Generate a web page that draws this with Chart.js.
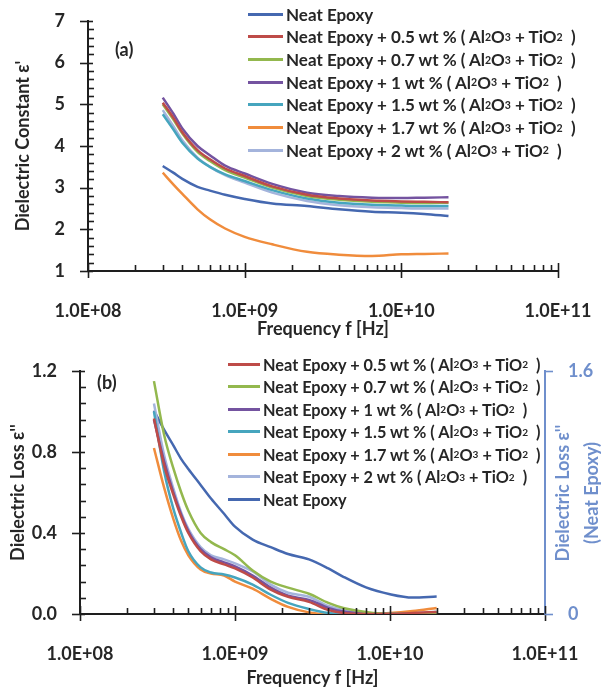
<!DOCTYPE html>
<html>
<head>
<meta charset="utf-8">
<script src="https://cdn.jsdelivr.net/npm/chart.js@4.4.1/dist/chart.umd.min.js"></script>
<style>
  body { margin: 0; background: #fff; width: 610px; height: 694px; position: relative; overflow: hidden; font-family: Lato, sans-serif; }
  .wrap { position: absolute; left: 0; }
  #wrapA { top: 0; }
  #wrapB { top: 340px; }
  .legend { position: absolute; color: #262626; font-weight: bold; white-space: pre; }
  .legend div { display: flex; align-items: center; }
  .legend .sw { display: inline-block; height: 3px; margin-right: 3px; }
  .legend sub { font-size: 0.62em; vertical-align: -0.2em; line-height: 0; }
  #legendA { left: 248px; top: 3px; font-size: 17px; }
  #legendA div { height: 22.67px; }
  #legendA .sw { width: 35px; }
  #legendB { left: 228px; top: 353px; font-size: 16.3px; }
  #legendB div { height: 22.5px; }
  #legendB .sw { width: 32px; }
</style>
</head>
<body>
<div class="wrap" id="wrapA"><canvas id="chartA" width="610" height="345"></canvas></div>
<div class="wrap" id="wrapB"><canvas id="chartB" width="610" height="354"></canvas></div>
<div class="legend" id="legendA"></div>
<div class="legend" id="legendB"></div>
<script>
// DATA
const loadings = ['0.5', '0.7', '1', '1.5', '1.7', '2'];
const xTickValues = [1e8, 1e9, 1e10, 1e11];

// (a) dielectric constant
const freqA = [3e8, 3.5e8, 4e8, 5e8, 6e8, 7.5e8, 1e9, 1.5e9, 2.5e9, 4e9, 6.5e9, 1e10, 1.4e10, 2e10];
const epsNeat = [3.52, 3.36, 3.21, 3.02, 2.93, 2.83, 2.73, 2.62, 2.56, 2.48, 2.42, 2.40, 2.37, 2.32];
const eps05 = [5.04, 4.68, 4.33, 3.90, 3.68, 3.46, 3.28, 3.03, 2.83, 2.74, 2.69, 2.67, 2.66, 2.65];
const eps07 = [5.00, 4.64, 4.30, 3.86, 3.64, 3.42, 3.24, 3.00, 2.80, 2.71, 2.66, 2.64, 2.63, 2.64];
const eps1 = [5.16, 4.78, 4.42, 4.00, 3.78, 3.53, 3.34, 3.09, 2.88, 2.80, 2.76, 2.75, 2.76, 2.77];
const eps15 = [4.76, 4.40, 4.08, 3.70, 3.50, 3.32, 3.16, 2.94, 2.74, 2.64, 2.59, 2.57, 2.56, 2.56];
const eps17 = [3.36, 3.08, 2.85, 2.48, 2.24, 2.02, 1.82, 1.64, 1.46, 1.39, 1.36, 1.40, 1.41, 1.42];
const eps2 = [4.86, 4.48, 4.14, 3.72, 3.50, 3.30, 3.12, 2.88, 2.68, 2.58, 2.53, 2.51, 2.50, 2.50];

// (b) dielectric loss
const freqB = [3e8, 3.5e8, 4e8, 4.5e8, 5e8, 6e8, 7e8, 8.5e8, 1e9, 1.3e9, 1.7e9, 2.2e9, 3e9, 4e9, 5e9, 7e9, 1e10, 1.4e10, 2e10];
const loss05 = [0.965, 0.73, 0.59, 0.48, 0.40, 0.31, 0.27, 0.245, 0.225, 0.18, 0.12, 0.085, 0.06, 0.02, 0.005, 0, 0, 0.005, 0.01];
const loss07 = [1.15, 0.88, 0.72, 0.60, 0.51, 0.40, 0.355, 0.32, 0.29, 0.215, 0.16, 0.13, 0.10, 0.055, 0.03, 0.01, 0, 0, 0.005];
const loss1 = [0.96, 0.75, 0.60, 0.49, 0.41, 0.32, 0.28, 0.255, 0.235, 0.19, 0.13, 0.09, 0.07, 0.03, 0.012, 0.003, 0, 0, 0.005];
const loss15 = [1.0, 0.70, 0.52, 0.40, 0.31, 0.23, 0.205, 0.195, 0.18, 0.145, 0.095, 0.055, 0.025, 0.005, 0, 0, 0, 0, 0.01];
const loss17 = [0.82, 0.62, 0.47, 0.36, 0.29, 0.22, 0.20, 0.19, 0.16, 0.125, 0.075, 0.035, 0.008, 0, 0, 0, 0.005, 0.015, 0.03];
const loss2 = [1.04, 0.78, 0.62, 0.50, 0.42, 0.33, 0.29, 0.27, 0.25, 0.21, 0.145, 0.105, 0.085, 0.04, 0.02, 0.005, 0, 0.005, 0.01];
const lossNeat = [1.34, 1.21, 1.11, 1.02, 0.955, 0.85, 0.76, 0.66, 0.575, 0.49, 0.44, 0.395, 0.36, 0.30, 0.245, 0.175, 0.13, 0.108, 0.115];

// STYLE
const textColor = '#262626';
const axisColor = '#1e1e1e';
const rightBlue = '#6f8fcc';
const colNeat = '#4568b0';
const fillerColors = ['#be4b48', '#93b84e', '#7453a0', '#46a5be', '#f08c3c', '#a4b4dc'];

Chart.defaults.font.family = 'Lato, sans-serif';
Chart.defaults.color = textColor;

const labelNeat = 'Neat Epoxy';
const fillerLabels = loadings.map(w => `Neat Epoxy + ${w} wt % ( Al₂O₃ + TiO₂  )`);

function pts(freq, vals) {
  return vals.map((v, i) => ({x: freq[i], y: v}));
}

function sciLabel(v) {
  const e = Math.round(Math.log10(v));
  return '1.0E+' + String(e).padStart(2, '0');
}

function lineSet(label, freq, vals, color, axis) {
  return {
    label: label,
    data: pts(freq, vals),
    borderColor: color,
    backgroundColor: color,
    borderWidth: 2.5,
    pointRadius: 0,
    cubicInterpolationMode: 'monotone',
    yAxisID: axis || 'y'
  };
}

// no label overflow padding, so the plot area sits where layout.padding says
function noOverflow(s) {
  s.paddingTop = 0;
  s.paddingBottom = 0;
  s.paddingLeft = 0;
  s.paddingRight = 0;
}

// crossing tick marks like the spreadsheet axes
const crossTicks = {
  id: 'crossTicks',
  afterDraw(chart, args, opts) {
    const {ctx, chartArea: a, scales} = chart;
    const minor = opts.yMinor;
    const major = opts.yMajor;
    ctx.save();
    ctx.lineWidth = 1.6;
    ctx.strokeStyle = axisColor;
    const seg = (x1, y1, x2, y2) => { ctx.beginPath(); ctx.moveTo(x1, y1); ctx.lineTo(x2, y2); ctx.stroke(); };
    const xs = scales.x;
    for (let e = 8; e <= 11; e++) {
      for (let m = 1; m <= 9; m++) {
        const v = m * Math.pow(10, e);
        if (v > 1.0001e11) break;
        const px = Math.round(xs.getPixelForValue(v)) + 0.5;
        if (m === 1) seg(px, a.bottom - 8, px, a.bottom + 7);
        else seg(px, a.bottom - 6, px, a.bottom);
      }
    }
    const ys = scales.y;
    const n = Math.round((ys.max - ys.min) / minor);
    const per = Math.round(major / minor);
    for (let i = 0; i <= n; i++) {
      const py = Math.round(ys.getPixelForValue(ys.min + i * minor)) + 0.5;
      if (i % per === 0) seg(a.left - 8, py, a.left + 5, py);
      else seg(a.left, py, a.left + 6, py);
    }
    if (scales.y1) {
      ctx.strokeStyle = rightBlue;
      scales.y1.ticks.forEach(t => {
        const py = Math.round(scales.y1.getPixelForValue(t.value)) + 0.5;
        seg(a.right, py, a.right + 8, py);
      });
    }
    ctx.restore();
  }
};

// panel tag and the rotated right-hand title
const extraText = {
  id: 'extraText',
  afterDraw(chart, args, opts) {
    const {ctx, chartArea: a} = chart;
    ctx.save();
    ctx.font = 'bold 18px Lato, sans-serif';
    ctx.fillStyle = textColor;
    ctx.textBaseline = 'middle';
    ctx.fillText(opts.tag, a.left + opts.tagDx, a.top + opts.tagDy);
    if (opts.rightTitle) {
      ctx.fillStyle = rightBlue;
      ctx.textAlign = 'center';
      opts.rightTitle.forEach((line, i) => {
        ctx.save();
        ctx.translate(a.right + opts.rightDx[i], a.top + opts.rightDy);
        ctx.rotate(-Math.PI / 2);
        ctx.fillText(line, 0, 0);
        ctx.restore();
      });
    }
    ctx.restore();
  }
};

function xScale(height) {
  return {
    type: 'logarithmic',
    min: 1e8,
    max: 1e11,
    grid: {display: false, drawTicks: false},
    border: {display: true, color: axisColor, width: 2},
    ticks: {autoSkip: false, maxRotation: 0, padding: 29, color: textColor,
      font: {size: 18, weight: 'bold'}, callback: v => sciLabel(v)},
    afterBuildTicks: s => { s.ticks = xTickValues.map(v => ({value: v})); },
    afterFit: s => { s.height = height; noOverflow(s); },
    title: {display: true, text: 'Frequency f [Hz]', color: textColor,
      font: {size: 18, weight: 'bold'}, padding: {top: 0, bottom: 5}}
  };
}

// CHART (a)
const dsA = [lineSet(labelNeat, freqA, epsNeat, colNeat)];
[eps05, eps07, eps1, eps15, eps17, eps2].forEach((vals, i) => {
  dsA.push(lineSet(fillerLabels[i], freqA, vals, fillerColors[i]));
});

new Chart(document.getElementById('chartA'), {
  type: 'line',
  data: {datasets: dsA},
  options: {
    responsive: false,
    animation: false,
    layout: {padding: {left: 0, top: 21, right: 52, bottom: 0}},
    plugins: {
      legend: {display: false},
      tooltip: {enabled: false},
      crossTicks: {yMinor: 0.2, yMajor: 1},
      extraText: {tag: '(a)', tagDx: 27, tagDy: 29}
    },
    scales: {
      x: xScale(74),
      y: {
        min: 1, max: 7,
        grid: {display: false, drawTicks: false},
        border: {display: true, color: axisColor, width: 2},
        ticks: {stepSize: 1, padding: 23, color: textColor, font: {size: 18, weight: 'bold'}},
        afterFit: s => { s.width = 88; noOverflow(s); },
        title: {display: true, text: "Dielectric Constant ε'", color: textColor,
          font: {size: 18, weight: 'bold'}, padding: {top: 12, bottom: 0}}
      }
    }
  },
  plugins: [crossTicks, extraText]
});

// CHART (b)
const dsB = [];
[loss05, loss07, loss1, loss15, loss17, loss2].forEach((vals, i) => {
  dsB.push(lineSet(fillerLabels[i], freqB, vals, fillerColors[i]));
});
dsB.push(lineSet(labelNeat, freqB, lossNeat, colNeat, 'y1'));

new Chart(document.getElementById('chartB'), {
  type: 'line',
  data: {datasets: dsB},
  options: {
    responsive: false,
    animation: false,
    layout: {padding: {left: 0, top: 31, right: 0, bottom: 0}},
    plugins: {
      legend: {display: false},
      tooltip: {enabled: false},
      crossTicks: {yMinor: 0.08, yMajor: 0.4},
      extraText: {tag: '(b)', tagDx: 17, tagDy: 12,
        rightTitle: ["Dielectric Loss ε''", '(Neat Epoxy)'], rightDx: [18, 47], rightDy: 122}
    },
    scales: {
      x: xScale(80),
      y: {
        min: 0, max: 1.2,
        grid: {display: false, drawTicks: false},
        border: {display: true, color: axisColor, width: 2},
        ticks: {stepSize: 0.4, padding: 23, color: textColor, font: {size: 18, weight: 'bold'},
          callback: v => v.toFixed(1)},
        afterFit: s => { s.width = 80; noOverflow(s); },
        title: {display: true, text: "Dielectric Loss ε''", color: textColor,
          font: {size: 18, weight: 'bold'}, padding: {top: 7, bottom: 0}}
      },
      y1: {
        position: 'right',
        min: 0, max: 1.6,
        grid: {display: false, drawTicks: false},
        border: {display: true, color: rightBlue, width: 2},
        ticks: {padding: 23, color: rightBlue, font: {size: 18, weight: 'bold'},
          callback: v => (v === 0 ? '0' : v.toFixed(1))},
        afterBuildTicks: s => { s.ticks = [{value: 0}, {value: 1.6}]; },
        afterFit: s => { s.width = 65; noOverflow(s); }
      }
    }
  },
  plugins: [crossTicks, extraText]
});

// HTML LEGENDS
function legendHtml(label, color) {
  const txt = label.replace(/₂/g, '<sub>2</sub>').replace(/₃/g, '<sub>3</sub>');
  return `<div><span class="sw" style="background:${color}"></span>${txt}</div>`;
}
document.getElementById('legendA').innerHTML =
  [legendHtml(labelNeat, colNeat)].concat(fillerLabels.map((l, i) => legendHtml(l, fillerColors[i]))).join('');
document.getElementById('legendB').innerHTML =
  fillerLabels.map((l, i) => legendHtml(l, fillerColors[i])).concat([legendHtml(labelNeat, colNeat)]).join('');
</script>
</body>
</html>
